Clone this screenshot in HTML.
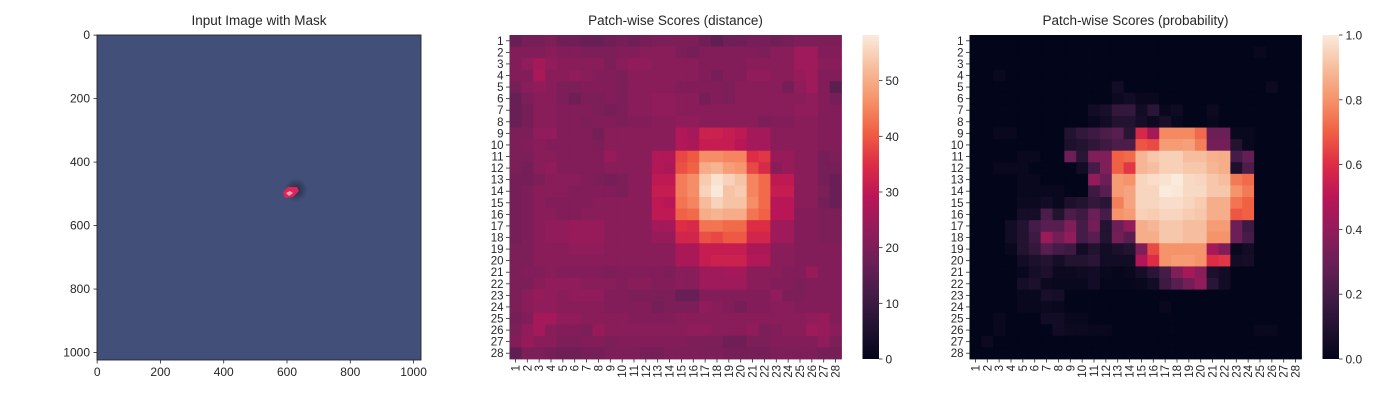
<!DOCTYPE html>
<html><head><meta charset="utf-8"><style>
body{margin:0;background:#fff;}
svg text{font-family:"Liberation Sans",sans-serif;fill:#262626;}
</style></head><body>
<svg id="fig" width="1400" height="400" xmlns="http://www.w3.org/2000/svg">
<rect width="1400" height="400" fill="#fff"/>
<defs>
<radialGradient id="dark" cx="0.5" cy="0.5" r="0.5"><stop offset="0" stop-color="#1c2238" stop-opacity="0.8"/><stop offset="1" stop-color="#1c2238" stop-opacity="0"/></radialGradient>
<linearGradient id="cb" x1="0" y1="1" x2="0" y2="0">
<stop offset="0" stop-color="#03051A"/><stop offset="0.1" stop-color="#221331"/><stop offset="0.2" stop-color="#451C47"/><stop offset="0.3" stop-color="#6B1F56"/><stop offset="0.4" stop-color="#921C5B"/><stop offset="0.5" stop-color="#B91657"/><stop offset="0.6" stop-color="#DD2C45"/><stop offset="0.7" stop-color="#F06043"/><stop offset="0.8" stop-color="#F5936A"/><stop offset="0.9" stop-color="#F6BE9E"/><stop offset="1" stop-color="#FAEBDD"/>
</linearGradient>
</defs>
<g>
<text x="259" y="25" font-size="13.5" text-anchor="middle">Input Image with Mask</text>
<rect x="97" y="35" width="324" height="325" fill="#425079"/>
<ellipse cx="296" cy="190" rx="12" ry="12" fill="url(#dark)"/>
<path d="M283 192 L288 187 L297 187 L299 191 L293 197 L285 198 Z" fill="#e0245a"/>
<path d="M286 193 L290 191 L293 193 L289 196 Z" fill="#f5a0b8"/>
<rect x="97" y="35" width="324" height="325" fill="none" stroke="#262626" stroke-width="0.9"/>
<g id="leftTicks"></g>
</g>
<g id="heat1"></g>
<g id="heat2"></g>
</svg>
<script>
const distanceScores = [
[17,19,19,20,18,18,17,17,18,19,18,19,20,20,20,20,18,16,18,18,19,19,18,19,20,20,20,20],
[21,21,21,22,21,21,20,20,20,21,21,22,22,22,20,19,21,21,21,21,21,20,22,22,25,25,21,21],
[21,23,26,23,22,22,22,22,20,22,23,23,22,22,22,22,21,21,21,21,22,22,22,22,25,25,22,22],
[21,21,27,22,22,23,22,21,21,20,22,22,22,22,22,22,21,19,21,21,23,23,22,22,24,25,21,21],
[19,22,23,22,20,20,21,21,21,20,22,22,22,22,21,21,21,21,20,22,22,22,22,19,23,25,21,15],
[17,20,22,22,20,18,20,20,21,20,22,22,23,23,22,22,19,21,20,22,22,22,22,22,22,23,21,19],
[17,19,22,22,21,21,21,20,19,20,22,22,23,23,22,22,22,22,22,22,22,22,22,22,23,23,21,21],
[17,19,22,22,21,21,20,21,21,20,21,21,22,22,23,23,22,22,22,22,22,20,21,21,22,22,21,21],
[20,20,23,23,21,21,21,19,22,22,22,22,22,22,28,26,32,32,31,30,26,26,22,22,22,22,21,21],
[20,21,22,21,21,21,21,20,22,22,22,22,22,22,28,27,31,31,31,29,26,26,22,22,22,22,21,21],
[20,20,22,22,21,21,21,21,24,22,22,22,28,28,38,40,46,46,45,45,35,36,24,24,22,22,19,20],
[20,19,22,23,21,21,21,21,22,22,22,22,28,27,39,41,50,51,48,47,38,34,22,24,22,22,19,19],
[19,19,20,22,22,22,21,20,19,20,22,22,30,30,44,46,54,57,55,53,45,42,30,30,22,22,19,17],
[19,20,22,22,22,21,21,21,21,20,22,22,31,31,44,46,55,58,53,54,45,42,31,31,22,22,20,17],
[19,20,22,21,21,21,21,22,22,22,22,22,30,29,43,45,52,55,53,53,46,42,29,29,22,22,19,17],
[19,20,22,22,21,21,22,22,22,22,22,22,30,30,41,42,50,51,50,50,43,41,29,29,21,21,20,20],
[19,20,22,23,23,24,24,24,22,22,22,22,26,26,35,34,43,43,42,42,35,35,25,25,21,21,20,20],
[19,20,22,23,23,24,24,24,22,22,22,22,24,24,33,33,39,38,40,40,33,33,25,25,21,21,20,20],
[20,20,22,22,22,23,23,23,22,22,22,22,22,22,27,27,31,31,31,31,27,27,22,22,21,21,21,21],
[20,20,22,22,22,22,22,22,22,22,22,22,22,22,27,27,31,32,32,32,28,28,22,22,21,21,21,21],
[20,21,21,22,21,21,21,21,20,21,21,21,21,20,22,22,25,25,26,26,22,22,22,21,21,24,21,21],
[20,20,22,23,23,23,22,22,22,21,22,22,21,21,22,22,25,25,25,25,22,22,21,21,20,21,21,21],
[20,22,24,23,22,23,23,23,21,21,20,20,20,20,17,17,21,21,21,21,21,21,23,20,20,21,21,21],
[20,22,23,23,22,22,22,22,21,21,21,21,19,20,20,20,23,22,21,19,21,21,22,22,21,21,21,21],
[19,21,26,26,23,23,22,22,22,22,21,21,21,21,22,22,22,22,22,22,22,22,22,22,22,23,24,21],
[20,23,26,22,21,21,20,24,22,22,22,22,22,22,22,23,23,22,22,22,23,20,21,22,22,25,24,22],
[21,24,22,22,20,20,21,21,20,21,21,21,21,21,21,20,20,20,18,18,20,20,21,21,21,21,23,20],
[16,20,20,19,18,18,19,19,20,20,20,19,19,20,20,20,20,20,19,19,19,19,20,20,20,20,19,19]
];
const probabilityScores = [
[0,0,0,0,0,0,0,0,0,0,0,0,0,0,0,0,0,0,0,0,0,0,0,0,0,0,0,0],
[0,0,0,0,0,0,0,0,0,0,0,0,0,0,0,0,0,0,0,0,0,0,0,0,0.02,0,0,0],
[0,0,0,0,0,0,0,0,0,0,0,0,0,0,0,0,0,0,0,0,0,0,0,0,0,0,0,0],
[0,0,0.02,0,0,0,0,0,0,0,0,0,0,0,0,0,0,0,0,0,0,0,0,0,0,0,0,0],
[0,0,0,0,0,0,0,0,0,0,0,0,0.05,0,0,0,0,0,0,0,0,0,0,0,0,0.03,0,0],
[0,0,0,0,0,0,0,0,0,0,0,0,0.03,0.05,0.02,0.02,0,0,0,0,0,0,0,0,0,0,0,0],
[0,0,0,0,0,0,0,0,0,0,0.05,0.07,0.15,0.15,0.05,0.12,0.02,0.04,0,0,0.03,0,0,0,0,0,0,0],
[0,0,0,0,0,0,0,0,0,0,0.02,0.05,0.1,0.1,0.06,0.03,0.07,0.02,0,0,0.02,0,0,0,0,0,0,0],
[0,0,0.02,0.02,0,0,0,0,0.1,0.15,0.18,0.22,0.25,0.12,0.58,0.45,0.78,0.78,0.78,0.72,0.3,0.3,0.02,0.02,0,0,0,0],
[0,0,0,0,0,0,0,0,0.08,0.1,0.14,0.18,0.22,0.22,0.68,0.66,0.82,0.82,0.83,0.76,0.32,0.32,0.1,0.02,0,0,0,0],
[0,0,0,0,0.02,0.02,0,0,0.3,0.12,0.35,0.35,0.7,0.72,0.88,0.92,0.94,0.94,0.9,0.9,0.87,0.86,0.2,0.28,0,0,0,0],
[0,0,0.02,0.02,0.02,0,0,0,0,0.05,0.2,0.35,0.7,0.62,0.88,0.9,0.94,0.94,0.92,0.92,0.88,0.86,0.08,0.22,0,0,0,0],
[0,0,0,0,0.02,0.02,0,0,0,0,0.4,0.3,0.82,0.8,0.95,0.97,0.98,1.0,0.96,0.95,0.92,0.9,0.75,0.72,0,0,0,0],
[0,0,0,0,0.02,0.02,0.02,0.02,0,0,0.18,0.25,0.82,0.84,0.95,0.95,1.0,0.99,0.96,0.96,0.92,0.92,0.8,0.75,0,0,0,0],
[0,0,0,0,0.03,0.03,0.05,0.02,0.08,0.1,0.15,0.12,0.76,0.84,0.95,0.95,0.97,0.97,0.95,0.93,0.86,0.86,0.74,0.7,0,0,0,0],
[0,0,0,0,0.06,0.06,0.22,0.1,0.22,0.18,0.3,0.2,0.8,0.82,0.94,0.93,0.95,0.95,0.93,0.92,0.86,0.86,0.68,0.7,0,0,0,0],
[0,0,0,0.05,0.1,0.2,0.25,0.25,0.35,0.2,0.32,0.1,0.3,0.4,0.86,0.88,0.92,0.92,0.9,0.9,0.82,0.82,0.3,0.18,0,0,0,0],
[0,0,0,0.05,0.1,0.18,0.42,0.32,0.4,0.2,0.25,0.1,0.32,0.25,0.86,0.86,0.92,0.92,0.9,0.9,0.8,0.8,0.3,0.2,0,0,0,0],
[0,0,0,0.02,0.1,0.15,0.25,0.2,0.18,0.05,0.1,0.05,0.08,0.1,0.35,0.66,0.8,0.8,0.8,0.8,0.45,0.35,0.02,0.05,0,0,0,0],
[0,0,0,0,0.05,0.08,0.1,0.06,0.1,0.1,0.12,0.05,0.05,0.05,0.48,0.6,0.8,0.82,0.82,0.8,0.6,0.62,0.05,0.06,0,0,0,0],
[0,0,0,0,0.02,0.06,0.08,0.03,0.03,0.04,0.05,0.02,0.01,0.02,0.06,0.12,0.2,0.35,0.45,0.38,0.08,0.05,0,0,0,0,0,0],
[0,0,0,0,0.06,0.08,0.03,0.02,0.02,0.02,0.05,0.01,0.01,0.01,0.02,0.05,0.18,0.25,0.32,0.4,0.12,0.05,0,0,0,0,0,0],
[0,0,0,0,0.02,0.02,0.07,0.06,0,0,0,0,0,0,0,0,0,0,0,0,0,0,0,0,0,0,0,0],
[0,0,0,0,0.02,0.02,0.03,0.02,0,0,0,0,0,0,0,0,0.02,0,0,0,0,0,0,0,0,0,0,0],
[0,0,0.02,0,0,0,0.05,0.05,0.02,0.02,0,0,0,0,0,0,0,0,0,0,0,0,0,0,0,0,0,0],
[0,0,0.02,0,0,0,0,0.05,0.03,0.03,0.02,0.02,0,0,0,0,0,0,0,0,0,0,0,0,0.02,0.02,0,0],
[0,0.03,0,0,0,0,0,0,0,0,0,0,0,0,0,0,0,0,0,0,0,0,0,0,0,0,0,0],
[0,0,0,0,0,0,0,0,0,0,0,0,0,0,0,0,0,0,0,0,0,0,0,0,0,0,0,0]
];
const rowLabels = Array.from({length:28},(_, i)=>String(i+1));
const colLabels = Array.from({length:28},(_, i)=>String(i+1));
const distanceTicks = [0,10,20,30,40,50];
const probabilityTicks = [0.0,0.2,0.4,0.6,0.8,1.0];
const imageTicks = [0,200,400,600,800,1000];

const NS="http://www.w3.org/2000/svg";
const stops=[[3,5,26],[34,19,49],[69,28,71],[107,31,86],[146,28,91],[185,22,87],[221,44,69],[240,96,67],[245,147,106],[246,190,158],[250,235,221]];
function cmap(t){t=Math.max(0,Math.min(1,t));const p=t*10,i=Math.min(9,Math.floor(p)),f=p-i;const a=stops[i],b=stops[i+1];return `rgb(${a.map((v,k)=>Math.round(v+(b[k]-v)*f)).join(',')})`;}
function el(tag,attrs,parent){const e=document.createElementNS(NS,tag);for(const k in attrs)e.setAttribute(k,attrs[k]);parent.appendChild(e);return e;}

const lt=document.getElementById('leftTicks');
const ix=v=>97+(v+0.5)*324/1024, iy=v=>35+(v+0.5)*325/1024;
imageTicks.forEach(v=>{
  el('line',{x1:ix(v),x2:ix(v),y1:360,y2:363.5,stroke:'#262626','stroke-width':0.8},lt);
  const tx=el('text',{x:ix(v),y:376,'font-size':12,'text-anchor':'middle'},lt);tx.textContent=v;
  
  
  el('line',{x1:93.5,x2:97,y1:iy(v),y2:iy(v),stroke:'#262626','stroke-width':0.8},lt);
  const ty=el('text',{x:90,y:iy(v)+4,'font-size':12,'text-anchor':'end'},lt);ty.textContent=v;
  
  
});

function heatmap(g,data,vmax,x0,title,ticks,cbx,fmt,prefix){
  const x1=x0+332,y0=35,y1=359,cw=(x1-x0)/28,ch=(y1-y0)/28;
  const t=el('text',{x:(x0+x1)/2,y:25,'font-size':13.5,'text-anchor':'middle'},g);t.textContent=title;
  
  
  data.forEach((row,r)=>row.forEach((v,c)=>{
    const rc=el('rect',{x:x0+c*cw,y:y0+r*ch,width:cw+0.4,height:ch+0.4,fill:cmap(v/vmax)},g);
    
    
  }));
  rowLabels.forEach((l,r)=>{
    const y=y0+(r+0.5)*ch;
    el('line',{x1:x0-3.5,x2:x0,y1:y,y2:y,stroke:'#262626','stroke-width':0.8},g);
    const tx=el('text',{x:x0-6,y:y+4,'font-size':11.5,'text-anchor':'end'},g);tx.textContent=l;
    
    
  });
  colLabels.forEach((l,c)=>{
    const x=x0+(c+0.5)*cw;
    el('line',{x1:x,x2:x,y1:y1,y2:y1+3.5,stroke:'#262626','stroke-width':0.8},g);
    const tx=el('text',{x:0,y:0,'font-size':11.5,'text-anchor':'end',transform:`translate(${x+4},${y1+6}) rotate(-90)`},g);tx.textContent=l;
    
    
  });
  const cb=el('rect',{x:cbx,y:y0,width:16.5,height:y1-y0,fill:'url(#cb)'},g);
  
  
  ticks.forEach(v=>{
    const y=y1-(v/vmax)*(y1-y0);
    el('line',{x1:cbx+16.5,x2:cbx+20,y1:y,y2:y,stroke:'#262626','stroke-width':0.8},g);
    const tx=el('text',{x:cbx+23,y:y+4.5,'font-size':12},g);tx.textContent=fmt(v);
    
    
  });
}
heatmap(document.getElementById('heat1'),distanceScores,58.2,509.5,'Patch-wise Scores (distance)',distanceTicks,862.5,v=>String(v),'distance');
heatmap(document.getElementById('heat2'),probabilityScores,1.0,969.5,'Patch-wise Scores (probability)',probabilityTicks,1322.5,v=>v.toFixed(1),'probability');
</script>
</body></html>
